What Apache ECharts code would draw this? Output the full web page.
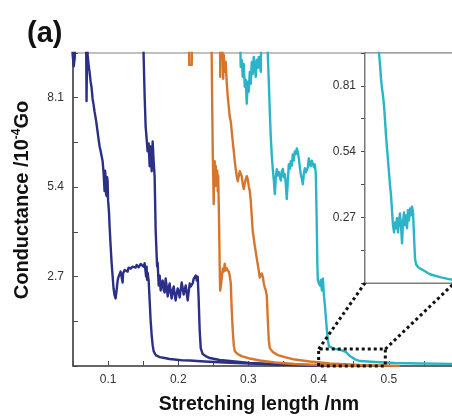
<!DOCTYPE html>
<html>
<head>
<meta charset="utf-8">
<script src="https://cdn.jsdelivr.net/npm/echarts@6/dist/echarts.min.js"></script>
<style>
  html, body { margin: 0; padding: 0; background: #fff; }
  #chart { width: 452px; height: 416px; }
</style>
</head>
<body>
<div id="chart"></div>
<script>
// Break-junction conductance traces: conductance (10^-4 G0) vs stretching length (nm)

const xTickLabels = ['0.1', '0.2', '0.3', '0.4', '0.5'];
const yTickLabels = ['2.7', '5.4', '8.1'];
const insetTickLabels = ['0.27', '0.54', '0.81'];

// [stretching length, conductance]
const navyTrace1 = [
  [0.044,12],[0.0495,9.4],[0.051,9.05],[0.0525,9.3],[0.054,12],
  [0.068,12],[0.0693,8.0],[0.0698,9.0],[0.0703,12],
  [0.0708,9.39],[0.0722,9.1],[0.0736,8.88],[0.075,8.6],[0.0765,8.4],[0.0779,8.07],[0.0793,7.9],
  [0.0807,7.68],[0.0822,7.5],[0.0836,7.3],[0.085,7.08],[0.0864,6.85],[0.0879,6.63],[0.0893,6.5],
  [0.0907,6.35],[0.0922,6.18],[0.0936,5.82],[0.095,5.28],[0.0957,5.9],[0.0964,5.73],[0.0971,5.2],
  [0.0979,5.13],[0.0986,5.7],[0.0993,5.58],[0.1,5.0],[0.1007,4.98],[0.1014,4.6],[0.1021,4.23],
  [0.1036,3.63],[0.105,3.12],[0.1064,2.73],[0.1078,2.34],[0.1093,2.13],[0.1107,2.04],[0.1121,2.28],
  [0.1136,2.58],[0.115,2.7],[0.1164,2.73],[0.1178,2.85],[0.1193,2.88],[0.1207,2.52],[0.1214,2.8],
  [0.1221,2.79],[0.1236,2.9],[0.125,2.94],[0.1264,2.88],[0.1278,2.85],[0.1292,2.97],[0.1307,3.0],
  [0.1321,2.94],[0.1335,2.91],[0.135,3.0],[0.1364,3.03],[0.1378,2.95],[0.1392,2.97],[0.1407,3.05],
  [0.1421,3.06],[0.1435,2.98],[0.1449,3.0],[0.1464,3.08],[0.1478,3.09],[0.1492,3.02],[0.1506,3.0],
  [0.1521,3.1],[0.1535,3.12],[0.1542,2.7],[0.1549,3.0],[0.1556,2.6],[0.1563,2.82],[0.1578,2.58],
  [0.1592,1.98],[0.1606,1.38],[0.1621,0.93],[0.1635,0.63],[0.1649,0.45],[0.1678,0.33],[0.1735,0.27],
  [0.1806,0.24],[0.1877,0.21],[0.1949,0.195],[0.2063,0.17],[0.2163,0.165],[0.2377,0.135],
  [0.2662,0.105],[0.302,0.075],[0.3446,0.045],[0.4017,0.015],[0.45,0.005]
];

const navyTrace2 = [
  [0.1492,12],[0.1506,9.39],[0.1521,8.13],[0.1535,7.23],[0.1549,6.87],[0.1563,6.48],[0.1578,6.72],
  [0.1592,6.03],[0.1606,6.63],[0.1621,5.88],[0.1635,6.78],[0.1649,6.18],[0.1663,5.73],[0.167,4.98],
  [0.1678,4.08],[0.1692,3.33],[0.1699,3.0],[0.1706,3.12],[0.1721,2.43],[0.1735,2.73],[0.1749,2.28],
  [0.1763,2.5],[0.1778,2.58],[0.1792,2.3],[0.1806,2.22],[0.182,2.64],[0.1835,2.4],[0.1849,2.1],
  [0.1863,2.35],[0.1877,2.49],[0.1892,2.2],[0.1906,2.04],[0.1921,2.3],[0.1935,2.4],[0.1949,2.15],
  [0.1963,1.98],[0.1978,2.2],[0.1992,2.34],[0.2006,2.25],[0.202,2.07],[0.2035,2.3],[0.2049,2.52],
  [0.2063,2.35],[0.2077,2.16],[0.2092,2.3],[0.2106,2.43],[0.212,2.2],[0.2134,1.98],[0.2149,2.25],
  [0.2163,2.49],[0.2177,2.4],[0.2191,2.34],[0.2206,2.5],[0.222,2.64],[0.2234,2.6],[0.2248,2.73],
  [0.2263,2.58],[0.2277,2.7],[0.2291,1.98],[0.2305,1.08],[0.232,0.54],[0.2348,0.36],[0.239,0.3],
  [0.2448,0.24],[0.259,0.18],[0.2805,0.135],[0.302,0.09],[0.3446,0.045],[0.4017,0.015],[0.46,0.005]
];

const orangeTrace1 = [
  [0.2145,12],[0.2156,9.09],[0.2192,9.09],[0.2203,12],
  [0.2462,12],[0.2476,9.39],[0.2483,7.98],[0.2491,6.48],[0.2498,5.73],[0.2505,4.89],[0.2512,5.88],
  [0.2519,6.18],[0.2526,5.43],[0.2533,6.05],[0.254,5.8],[0.2548,5.66],[0.2555,5.9],[0.2562,5.28],
  [0.2569,5.75],[0.2576,4.98],[0.2583,4.08],[0.259,3.03],[0.2597,2.28],[0.2605,2.22],[0.2612,2.5],
  [0.2619,2.64],[0.2633,2.94],[0.2647,2.85],[0.2662,3.09],[0.2676,2.88],[0.269,2.95],[0.2705,3.0],
  [0.2719,2.85],[0.2733,2.73],[0.2748,2.5],[0.2762,1.68],[0.2776,1.08],[0.2791,0.63],[0.2805,0.45],
  [0.2847,0.36],[0.2904,0.3],[0.3019,0.225],[0.3161,0.165],[0.3375,0.105],[0.366,0.06],
  [0.4159,0.015],[0.4587,0.003]
];

const orangeTrace2 = [
  [0.259,12],[0.2598,8.73],[0.2605,12],[0.2633,12],[0.264,8.67],[0.2648,9.39],[0.2662,8.88],
  [0.2676,9.18],[0.269,8.58],[0.2705,8.13],[0.2719,7.83],[0.2733,7.53],[0.2748,7.38],[0.2762,7.08],
  [0.2776,6.78],[0.2791,6.48],[0.2805,6.18],[0.2819,5.94],[0.2833,5.73],[0.2847,5.58],[0.2862,5.64],
  [0.2876,5.88],[0.289,5.94],[0.2904,5.73],[0.2919,5.49],[0.2933,5.34],[0.2947,5.49],[0.2961,5.64],
  [0.2976,5.73],[0.299,5.64],[0.3004,5.43],[0.3019,5.28],[0.3033,4.98],[0.3047,4.53],[0.3061,4.08],
  [0.309,3.63],[0.3119,3.24],[0.3147,2.88],[0.3161,2.67],[0.3176,2.7],[0.319,2.79],[0.3204,2.7],
  [0.3219,2.49],[0.3233,2.37],[0.3247,2.28],[0.3261,2.13],[0.3276,1.38],[0.329,0.78],[0.3304,0.54],
  [0.3347,0.42],[0.3418,0.33],[0.3518,0.27],[0.366,0.195],[0.3874,0.135],[0.4159,0.075],
  [0.4587,0.03],[0.5158,0.005]
];

const cyanTrace = [
  [0.2862,12],[0.289,9.03],[0.2904,9.24],[0.2919,8.73],[0.2933,9.12],[0.2947,8.43],[0.2961,8.64],
  [0.2976,7.92],[0.299,8.58],[0.3004,8.28],[0.3019,8.88],[0.3033,8.52],[0.3047,9.18],[0.3061,8.82],
  [0.3076,9.33],[0.3104,8.73],[0.3119,9.24],[0.3133,9.0],[0.3147,9.33],[0.3176,8.88],[0.319,12],
  [0.3261,12],[0.3276,9.39],[0.329,8.58],[0.3304,7.68],[0.3318,6.93],[0.3333,6.33],[0.3347,5.94],
  [0.3362,5.6],[0.3376,5.19],[0.339,5.7],[0.3404,5.94],[0.3418,5.75],[0.3433,5.85],[0.3447,5.79],
  [0.3461,5.6],[0.3475,5.88],[0.349,5.95],[0.3504,5.7],[0.3518,5.79],[0.3532,5.5],[0.3546,5.04],
  [0.3561,5.6],[0.3575,6.09],[0.3589,5.95],[0.3603,6.18],[0.3618,6.05],[0.3632,6.39],[0.3646,6.2],
  [0.366,6.48],[0.3675,6.4],[0.3689,6.57],[0.3703,6.45],[0.3718,6.27],[0.3732,6.0],[0.3746,5.79],
  [0.376,5.65],[0.3775,5.49],[0.3789,5.8],[0.3803,5.97],[0.3818,5.85],[0.3832,5.79],[0.3846,6.0],
  [0.386,6.27],[0.3875,6.1],[0.3889,6.03],[0.3903,6.2],[0.3917,6.18],[0.3932,6.0],[0.3946,6.09],
  [0.396,5.79],[0.3975,4.08],[0.3982,3.03],[0.3989,2.58],[0.4004,2.5],[0.4018,2.43],[0.4032,2.6],
  [0.4046,2.28],[0.4061,2.64],[0.4075,2.13],[0.4089,1.83],[0.4104,1.44],[0.4118,1.08],[0.4132,0.78],
  [0.4146,0.6],[0.416,0.57],[0.4218,0.52],[0.4275,0.5],[0.4332,0.47],[0.439,0.42],[0.4446,0.3],
  [0.4518,0.2],[0.4589,0.15],[0.4803,0.12],[0.5089,0.09],[0.5446,0.075],[0.6,0.06]
];

// magnified view of the last trace near the end of the plateau
const cyanInset = [
  [0.4128,1.05],[0.4149,0.944],[0.416,0.895],[0.417,0.841],[0.4181,0.8],[0.4191,0.771],[0.4202,0.73],
  [0.4213,0.669],[0.4223,0.607],[0.4234,0.554],[0.4245,0.504],[0.4255,0.455],[0.4266,0.402],
  [0.4277,0.36],[0.4287,0.299],[0.4298,0.237],[0.4309,0.208],[0.4319,0.249],[0.433,0.225],
  [0.434,0.266],[0.4351,0.208],[0.4362,0.257],[0.4372,0.286],[0.4383,0.237],[0.4394,0.163],
  [0.4404,0.249],[0.4415,0.29],[0.4426,0.237],[0.4436,0.278],[0.4447,0.225],[0.4457,0.299],
  [0.4468,0.257],[0.4479,0.306],[0.4489,0.278],[0.45,0.314],[0.4511,0.29],[0.4521,0.196],
  [0.4532,0.101],[0.4543,0.077],[0.4564,0.065],[0.4585,0.06],[0.4638,0.048],[0.469,0.036],
  [0.4798,0.024],[0.4904,0.015],[0.501,0.012]
];

// region of the main plot that the inset magnifies
const zoomBoxX = [0.4, 0.495];
const zoomBoxY = [0, 0.51];

const NAVY = '#2b2f85';
const ORANGE = '#d5762e';
const CYAN = '#2bb4c8';
const AXIS = '#4a4a4a';
const FONT = '"Liberation Sans", Arial, sans-serif';

// show a tick label only where the tick value equals one of the listed labels
function pickLabel(labels) {
  return function (v) {
    for (let i = 0; i < labels.length; i++) {
      if (Math.abs(parseFloat(labels[i]) - v) < 1e-7) return labels[i];
    }
    return '';
  };
}

function trace(data, color, idx) {
  return {
    type: 'line', data: data, xAxisIndex: idx, yAxisIndex: idx,
    showSymbol: false, symbol: 'none', silent: true, animation: false,
    lineStyle: { color: color, width: 2.4, join: 'round' }
  };
}

const axisLine = { show: true, onZero: false, lineStyle: { color: AXIS, width: 1.6 } };
const labelStyle = { color: '#333', fontSize: 12, fontFamily: FONT };

const chart = echarts.init(document.getElementById('chart'), null, { renderer: 'canvas' });

chart.setOption({
  animation: false,
  backgroundColor: '#fff',
  grid: [
    { left: 73, top: 53, right: -7, bottom: 50, show: true, borderColor: '#808080', borderWidth: 1,
      outerBoundsMode: 'none' },
    { left: 365, top: 53, right: -7, bottom: 133, show: true, borderColor: '#808080', borderWidth: 1,
      backgroundColor: '#fff', outerBoundsMode: 'none', z: 3 }
  ],
  xAxis: [
    { gridIndex: 0, type: 'value', min: 0.05, max: 0.6, interval: 0.05,
      axisLine: axisLine,
      axisTick: { show: true, inside: true, length: 5, lineStyle: { color: AXIS, width: 1 } },
      axisLabel: Object.assign({ margin: 8, formatter: pickLabel(xTickLabels) }, labelStyle),
      splitLine: { show: false } },
    { gridIndex: 1, type: 'value', min: 0.4, max: 0.5, interval: 0.02,
      axisLine: axisLine,
      axisTick: { show: true, inside: true, length: 4, lineStyle: { color: AXIS, width: 1 } },
      axisLabel: { show: false }, splitLine: { show: false } }
  ],
  yAxis: [
    { gridIndex: 0, type: 'value', min: 0, max: 9.45, interval: 1.35,
      axisLine: axisLine,
      axisTick: { show: true, inside: true, length: 5, lineStyle: { color: AXIS, width: 1 } },
      axisLabel: Object.assign({ margin: 9, formatter: pickLabel(yTickLabels) }, labelStyle),
      splitLine: { show: false } },
    { gridIndex: 1, type: 'value', min: 0, max: 0.945, interval: 0.135,
      axisLine: axisLine,
      axisTick: { show: true, inside: false, length: 4, lineStyle: { color: AXIS, width: 1 } },
      axisLabel: Object.assign({ margin: 9, formatter: pickLabel(insetTickLabels) }, labelStyle),
      splitLine: { show: false } }
  ],
  series: [
    trace(navyTrace1, NAVY, 0),
    trace(navyTrace2, NAVY, 0),
    trace(orangeTrace1, ORANGE, 0),
    trace(orangeTrace2, ORANGE, 0),
    trace(cyanTrace, CYAN, 0),
    trace(cyanInset, CYAN, 1),
    {
      type: 'line', xAxisIndex: 0, yAxisIndex: 0, clip: false, silent: true, z: 6,
      showSymbol: false, symbol: 'none',
      data: [[zoomBoxX[0], zoomBoxY[0]], [zoomBoxX[0], zoomBoxY[1]], [zoomBoxX[1], zoomBoxY[1]],
             [zoomBoxX[1], zoomBoxY[0]], [zoomBoxX[0], zoomBoxY[0]]],
      lineStyle: { color: '#111', width: 3, type: [3, 3] }
    }
  ]
});

// dotted guides from the zoom box to the inset's lower corners
const boxTL = chart.convertToPixel({ gridIndex: 0 }, [zoomBoxX[0], zoomBoxY[1]]);
const boxTR = chart.convertToPixel({ gridIndex: 0 }, [zoomBoxX[1], zoomBoxY[1]]);
const insetBL = chart.convertToPixel({ gridIndex: 1 }, [zoomBoxX[0], 0]);
const insetBR = chart.convertToPixel({ gridIndex: 1 }, [zoomBoxX[1], 0]);
const guide = { stroke: '#111', lineWidth: 3, lineDash: [3, 3] };

chart.setOption({
  graphic: [
    { type: 'line', z: 20, silent: true,
      shape: { x1: boxTL[0], y1: boxTL[1], x2: insetBL[0], y2: insetBL[1] }, style: guide },
    { type: 'line', z: 20, silent: true,
      shape: { x1: boxTR[0], y1: boxTR[1], x2: insetBR[0], y2: insetBR[1] }, style: guide },
    { type: 'text', x: 27, y: 34, z: 20, silent: true,
      style: { text: '(a)', font: 'bold 29px ' + FONT, fill: '#111',
               textAlign: 'left', textVerticalAlign: 'middle' } },
    { type: 'text', x: 259, y: 405, z: 20, silent: true,
      style: { text: 'Stretching length /nm', font: 'bold 19.5px ' + FONT, fill: '#111',
               textAlign: 'center', textVerticalAlign: 'middle' } },
    { type: 'text', x: 22, y: 200, z: 20, silent: true, rotation: Math.PI / 2,
      style: {
        text: '{m|Conductance /10}{s|-4}{m|Go}',
        textAlign: 'center', textVerticalAlign: 'middle',
        rich: {
          m: { fontSize: 20, fontWeight: 'bold', fontFamily: FONT, fill: '#111', lineHeight: 22 },
          s: { fontSize: 12, fontWeight: 'bold', fontFamily: FONT, fill: '#111', lineHeight: 22,
               verticalAlign: 'top' }
        }
      } }
  ]
});
</script>
</body>
</html>
